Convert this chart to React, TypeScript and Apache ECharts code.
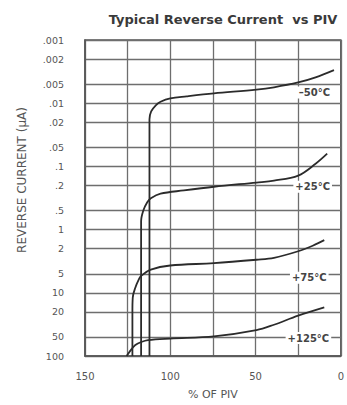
import React, { useEffect, useRef } from "react";
import * as echarts from "echarts";

// Y tick values (reverse current, µA) and their printed labels
const yTickValues = [0.001, 0.002, 0.005, 0.01, 0.02, 0.05, 0.1, 0.2, 0.5, 1, 2, 5, 10, 20, 50, 100];
const yTickLabels = [".001", ".002", ".005", ".01", ".02", ".05", ".1", ".2", ".5", "1", "2", "5", "10", "20", "50", "100"];
const xTickLabels = [0, 50, 100, 150];

// Curves: [% of PIV, reverse current µA]
const curveM50: [number, number][] = [
  [112.2, 100], [112.2, 0.05], [112.2, 0.018], [111.2, 0.0135], [108.5, 0.0108], [105.7, 0.0095],
  [100, 0.0084], [90.4, 0.0078], [74.4, 0.007], [49.5, 0.0061], [39.2, 0.0056], [25, 0.0047],
  [14.8, 0.0039], [4, 0.003],
];
const curveP25: [number, number][] = [
  [117.1, 100], [117.1, 2], [117.1, 0.74], [115.8, 0.5], [113.5, 0.37], [111.4, 0.32], [105.7, 0.27],
  [92, 0.24], [74.4, 0.21], [49.5, 0.18], [39.2, 0.168], [25, 0.14], [14.8, 0.091], [8, 0.063],
];
const curveP75: [number, number][] = [
  [122.2, 100], [122.2, 20], [122.0, 11.9], [120.5, 8.3], [118.5, 6.2], [117.1, 5.4], [111.4, 4.3],
  [100, 3.7], [74.4, 3.4], [49.5, 3.0], [39.2, 2.8], [25, 2.2], [16.5, 1.8], [9.7, 1.47],
];
const curveP125: [number, number][] = [
  [125.6, 100], [122.7, 78], [120.5, 67], [117, 60], [113, 56], [100, 53], [74.4, 49],
  [49.5, 39], [39.2, 32], [25, 23], [9.7, 17],
];

const curveNames = ["–50°C", "+25°C", "+75°C", "+125°C"];
const curves = [curveM50, curveP25, curveP75, curveP125];
// label anchor points [% of PIV, current µA]
const labelPoints: [number, number][] = [[15.5, 0.0068], [16.5, 0.21], [18.5, 5.8], [19, 52]];

const LINE = "#2b2b2b";
const GRIDC = "#6e6e6e";
const TXT = "#555";

export default function App() {
  const ref = useRef<HTMLDivElement>(null);
  useEffect(() => {
    if (!ref.current) return;
    const chart = echarts.init(ref.current, null, { renderer: "svg" });
    const logTicks = yTickValues.map((v) => Math.log10(v));
    const fmtY = (v: number) => {
      const i = logTicks.findIndex((t) => Math.abs(t - v) < 1e-6);
      return i >= 0 ? yTickLabels[i] : "";
    };
    chart.setOption({
      animation: false,
      backgroundColor: "#fff",
      title: {
        text: "Typical Reverse Current  vs PIV",
        left: 218,
        textAlign: "center",
        top: 8,
        textStyle: { fontFamily: "DejaVu Sans", fontWeight: "bold", fontSize: 13, color: "#3a3a3a" },
      },
      graphic: [
        {
          type: "text",
          x: 22,
          y: 180,
          rotation: Math.PI / 2,
          style: {
            text: "REVERSE CURRENT (μA)",
            fontFamily: "DejaVu Sans",
            fontSize: 12,
            fill: TXT,
            textAlign: "center",
            textVerticalAlign: "middle",
          },
        },
      ],
      grid: { left: 85, right: -2, top: 40, bottom: 46, show: true, borderColor: "#555", borderWidth: 1.5, backgroundColor: "transparent" },
      xAxis: {
        type: "value",
        min: 0,
        max: 150,
        interval: 25,
        inverse: true,
        name: "% OF PIV",
        nameLocation: "middle",
        nameGap: 33,
        nameTextStyle: { fontFamily: "DejaVu Sans", fontSize: 11, color: TXT },
        axisLine: { show: true, onZero: false, lineStyle: { color: "#555", width: 1.5 } },
        axisTick: { show: false },
        axisLabel: {
          margin: 15,
          fontFamily: "DejaVu Sans",
          fontSize: 10,
          color: TXT,
          formatter: (v: number) => (xTickLabels.indexOf(v) >= 0 ? String(v) : ""),
        },
        splitLine: { show: true, lineStyle: { color: GRIDC, width: 1.3 } },
      },
      yAxis: {
        type: "value",
        min: -3,
        max: 2,
        inverse: true,
        axisLine: { show: true, onZero: false, lineStyle: { color: "#555", width: 1.5 } },
        axisTick: { show: false, customValues: logTicks },
        axisLabel: {
          customValues: logTicks,
          margin: 21,
          fontFamily: "DejaVu Sans",
          fontSize: 9.5,
          color: TXT,
          formatter: fmtY,
        },
        splitLine: { show: true, lineStyle: { color: GRIDC, width: 1.3 } },
      },
      series: curves.map((c, i) => ({
        type: "line",
        name: curveNames[i],
        data: c.map(([x, y]) => [x, Math.log10(y)]),
        smooth: 0.35,
        symbol: "none",
        lineStyle: { color: LINE, width: 1.8 },
        markPoint: {
          symbol: "rect",
          symbolSize: 1,
          itemStyle: { color: "transparent" },
          label: {
            show: true,
            position: "inside",
            formatter: curveNames[i],
            fontFamily: "DejaVu Sans",
            fontWeight: "bold",
            fontSize: 10,
            color: "#444",
            backgroundColor: "#fff",
            padding: [1, 2],
          },
          data: [{ coord: [labelPoints[i][0], Math.log10(labelPoints[i][1])] }],
        },
      })),
    });
    return () => chart.dispose();
  }, []);
  return <div ref={ref} style={{ position: "fixed", left: 0, top: 0, width: 347, height: 405 }} />;
}
